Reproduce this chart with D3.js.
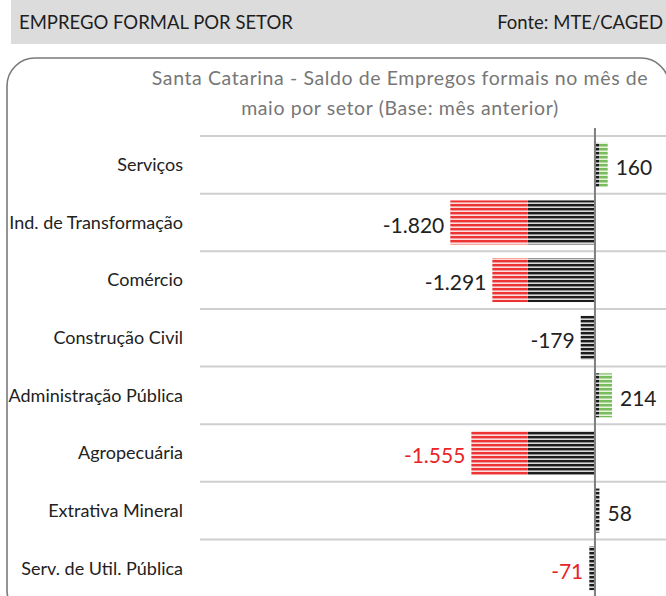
<!DOCTYPE html>
<html>
<head>
<meta charset="utf-8">
<script src="https://cdn.jsdelivr.net/npm/d3@7"></script>
<style>
  html, body { margin: 0; padding: 0; background: #fff; }
  svg { display: block; font-family: Lato, "Open Sans", sans-serif; }
</style>
</head>
<body>
<svg id="chart" width="666" height="596"></svg>
<script>
// ---- data ----
const categories = ["Serviços", "Ind. de Transformação", "Comércio", "Construção Civil",
                    "Administração Pública", "Agropecuária", "Extrativa Mineral", "Serv. de Util. Pública"];
const values = [160, -1820, -1291, -179, 214, -1555, 58, -71];
const valueLabels = ["160", "-1.820", "-1.291", "-179", "214", "-1.555", "58", "-71"];
const redLabelCategories = ["Agropecuária", "Serv. de Util. Pública"];
const colorBreaks = [-845, 56]; // fill changes beyond these values
const headerLeft = "EMPREGO FORMAL POR SETOR";
const headerRight = "Fonte: MTE/CAGED";
const titleLines = ["Santa Catarina - Saldo de Empregos formais no mês de",
                    "maio por setor (Base: mês anterior)"];

// ---- drawing ----
const svg = d3.select("#chart");
const W = 666, H = 596;

// stripe patterns
const defs = svg.append("defs");
function stripe(id, c1, c2, c3) {
  const p = defs.append("pattern").attr("id", id)
    .attr("patternUnits", "userSpaceOnUse").attr("width", 8).attr("height", 4);
  p.append("rect").attr("x", 0).attr("y", 0).attr("width", 8).attr("height", 2).attr("fill", c1);
  p.append("rect").attr("x", 0).attr("y", 2).attr("width", 8).attr("height", 1).attr("fill", c2);
  p.append("rect").attr("x", 0).attr("y", 3).attr("width", 8).attr("height", 1).attr("fill", c3);
}
stripe("pBlack", "#1c1c1c", "#8f8f8f", "#d8d8d8");
stripe("pRed", "#ec3434", "#f59a9a", "#fcdcdc");
stripe("pGreen", "#78bd5c", "#b5d9a5", "#e6f3df");

// header band
svg.append("rect").attr("x", 11).attr("y", 0).attr("width", W - 11).attr("height", 44).attr("fill", "#dcdcdc");
svg.append("text").attr("x", 19).attr("y", 29).attr("font-size", 18.5).attr("fill", "#1e1e1e")
  .text(headerLeft);
svg.append("text").attr("x", 663).attr("y", 29).attr("font-size", 18.5).attr("fill", "#1e1e1e")
  .attr("text-anchor", "end").text(headerRight);

// rounded frame
svg.append("rect").attr("x", 7).attr("y", 58).attr("width", 662).attr("height", 560)
  .attr("rx", 28).attr("ry", 28).attr("fill", "none").attr("stroke", "#7a7a7a").attr("stroke-width", 1.6);

// title
svg.append("g").selectAll("text").data(titleLines).join("text")
  .attr("x", 400).attr("y", (d, i) => 85 + i * 30)
  .attr("text-anchor", "middle").attr("font-size", 19.5).attr("fill", "#777")
  .attr("letter-spacing", 0.6)
  .text(d => d);

// scales
const x = d3.scaleLinear().domain([-2000, 900]).range([436, 666.5]);
const y = d3.scaleBand().domain(categories).range([136, 597]).padding(0);
const barH = 44;
const barOff = (y.bandwidth() - barH) / 2;

// gridlines at band boundaries
const bounds = categories.map(c => y(c));
svg.append("g").selectAll("line").data(bounds).join("line")
  .attr("x1", 200).attr("x2", W).attr("y1", d => d).attr("y2", d => d)
  .attr("stroke", "#cfcfcf").attr("stroke-width", 2);

// category axis
const yAxis = svg.append("g").attr("transform", "translate(191,0)")
  .call(d3.axisLeft(y).tickSize(0).tickPadding(8));
yAxis.select(".domain").remove();
yAxis.selectAll("text").attr("font-size", 18).attr("fill", "#222")
  .attr("font-family", "Lato, 'Open Sans', sans-serif").attr("dy", "0.35em");

// bars split into inner (black) and outer (red/green) segments
const segs = [];
values.forEach((v, i) => {
  const cat = categories[i];
  const inner = Math.max(colorBreaks[0], Math.min(colorBreaks[1], v));
  segs.push({ cat, a: 0, b: inner, fill: "url(#pBlack)" });
  if (v < colorBreaks[0]) segs.push({ cat, a: colorBreaks[0], b: v, fill: "url(#pRed)" });
  if (v > colorBreaks[1]) segs.push({ cat, a: colorBreaks[1], b: v, fill: "url(#pGreen)" });
});
svg.append("g").selectAll("rect").data(segs).join("rect")
  .attr("x", d => Math.min(x(d.a), x(d.b)))
  .attr("width", d => Math.abs(x(d.b) - x(d.a)))
  .attr("y", d => y(d.cat) + barOff)
  .attr("height", barH)
  .attr("fill", d => d.fill);

// zero axis line
svg.append("line").attr("x1", x(0)).attr("x2", x(0)).attr("y1", 128).attr("y2", H)
  .attr("stroke", "#7f7f7f").attr("stroke-width", 2);

// value labels
svg.append("g").selectAll("text").data(values).join("text")
  .attr("x", d => d < 0 ? x(d) - 6 : x(d) + 8)
  .attr("y", (d, i) => y(categories[i]) + y.bandwidth() / 2 + 3)
  .attr("dy", "0.35em")
  .attr("text-anchor", d => d < 0 ? "end" : "start")
  .attr("font-size", 21)
  .attr("fill", (d, i) => redLabelCategories.includes(categories[i]) ? "#e8242a" : "#222")
  .text((d, i) => valueLabels[i]);
</script>
</body>
</html>
